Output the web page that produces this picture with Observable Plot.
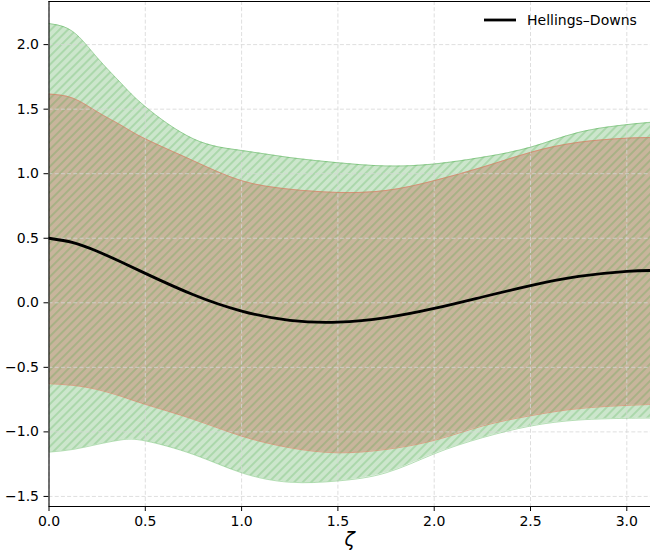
<!DOCTYPE html>
<html>
<head>
<meta charset="utf-8">
<script src="https://cdn.jsdelivr.net/npm/d3@7"></script>
<script src="https://cdn.jsdelivr.net/npm/@observablehq/plot@0.6"></script>
<style>
  html, body { margin: 0; padding: 0; background: #fff; overflow: hidden; }
  #chart { width: 650px; height: 560px; position: relative; }
</style>
</head>
<body>
<div id="chart"></div>
<script>
// ---- data ----
const zeta       = [0, 0.125, 0.25, 0.375, 0.5, 0.75, 1.0, 1.25, 1.5, 1.75, 2.0, 2.25, 2.5, 2.75, 3.0, 3.1416];
const hellings   = [0.5, 0.466, 0.399, 0.316, 0.228, 0.062, -0.064, -0.136, -0.150, -0.115, -0.044, 0.045, 0.133, 0.204, 0.244, 0.25];
const outerUpper = [2.163, 2.10, 1.90, 1.70, 1.52, 1.27, 1.18, 1.125, 1.085, 1.06, 1.075, 1.127, 1.205, 1.32, 1.38, 1.40];
const innerUpper = [1.617, 1.585, 1.48, 1.375, 1.27, 1.10, 0.946, 0.88, 0.855, 0.87, 0.946, 1.05, 1.165, 1.243, 1.275, 1.28];
const innerLower = [-0.627, -0.640, -0.672, -0.725, -0.787, -0.903, -1.033, -1.123, -1.162, -1.136, -1.066, -0.955, -0.875, -0.82, -0.795, -0.787];
const outerLower = [-1.157, -1.136, -1.097, -1.062, -1.07, -1.175, -1.317, -1.39, -1.38, -1.317, -1.17, -1.045, -0.955, -0.908, -0.895, -0.893];
const xTicks = [0, 0.5, 1.0, 1.5, 2.0, 2.5, 3.0];
const yTicks = [-1.5, -1.0, -0.5, 0.0, 0.5, 1.0, 1.5, 2.0];
const xDomain = [0, 3.123];
const yDomain = [-1.578, 2.334];
const legendLabel = "Hellings–Downs";
const xLabel = "ζ";

const rows = zeta.map((z, i) => ({
  z, hd: hellings[i], ou: outerUpper[i], iu: innerUpper[i], il: innerLower[i], ol: outerLower[i]
}));

const fmt = d => (d < 0 ? "\u2212" : "") + Math.abs(d).toFixed(1);
const curve = "natural";

const plot = Plot.plot({
  width: 650,
  height: 560,
  marginLeft: 48.5,
  marginRight: 0,
  marginTop: 1,
  marginBottom: 54,
  style: { fontFamily: "DejaVu Sans, sans-serif", fontSize: "14px", color: "#000", background: "#fff", overflow: "visible" },
  x: { domain: xDomain, ticks: xTicks, tickFormat: fmt, tickSize: 5, tickPadding: 5, label: null },
  y: { domain: yDomain, ticks: yTicks, tickFormat: fmt, tickSize: 5, tickPadding: 5, label: null },
  marks: [
    Plot.areaY(rows, { x: "z", y1: "ol", y2: "ou", curve, fill: "#cce6cc", clip: true }),
    Plot.areaY(rows, { x: "z", y1: "il", y2: "iu", curve, fill: "#c8b59c", clip: true }),
    Plot.areaY(rows, { x: "z", y1: "ol", y2: "ou", curve, fill: "url(#hatch)", clip: true }),
    Plot.ruleX(xTicks, { stroke: "#d6d6d6", strokeWidth: 0.8, strokeDasharray: "4,2.2" }),
    Plot.ruleY(yTicks, { stroke: "#d6d6d6", strokeWidth: 0.8, strokeDasharray: "4,2.2" }),
    Plot.lineY(rows, { x: "z", y: "ou", curve, stroke: "#2ca02c", strokeOpacity: 0.35, strokeWidth: 1, clip: true }),
    Plot.lineY(rows, { x: "z", y: "ol", curve, stroke: "#2ca02c", strokeOpacity: 0.35, strokeWidth: 1, clip: true }),
    Plot.lineY(rows, { x: "z", y: "iu", curve, stroke: "#e07a5f", strokeOpacity: 0.6, strokeWidth: 1, clip: true }),
    Plot.lineY(rows, { x: "z", y: "il", curve, stroke: "#e07a5f", strokeOpacity: 0.6, strokeWidth: 1, clip: true }),
    Plot.lineY(rows, { x: "z", y: "hd", curve, stroke: "#000", strokeWidth: 2.8, clip: true }),
    Plot.ruleX([xDomain[0]], { stroke: "#000", strokeWidth: 1.1 }),
    Plot.ruleY([yDomain[0]], { stroke: "#000", strokeWidth: 1.1 }),
    Plot.ruleY([yDomain[1]], { stroke: "#000", strokeWidth: 1.1 }),
    Plot.text([xLabel], { frameAnchor: "bottom", dy: 39, fontSize: 19, fontStyle: "italic", fill: "#000" })
  ]
});

document.getElementById("chart").appendChild(plot);

// hatch pattern definition
const svg = d3.select(plot);
const defs = svg.insert("defs", ":first-child");
const pat = defs.append("pattern")
  .attr("id", "hatch")
  .attr("patternUnits", "userSpaceOnUse")
  .attr("width", 6.0)
  .attr("height", 10)
  .attr("patternTransform", "rotate(45)");
pat.append("line")
  .attr("x1", 3).attr("x2", 3).attr("y1", -1).attr("y2", 11)
  .attr("stroke", "#2ca02c").attr("stroke-opacity", 0.38).attr("stroke-width", 1.1);

// legend (upper right, no frame)
const lg = svg.append("g").attr("class", "legend").attr("text-anchor", "start");
lg.append("line").attr("x1", 484).attr("x2", 516).attr("y1", 20).attr("y2", 20)
  .attr("stroke", "#000").attr("stroke-width", 2.8);
lg.append("text").attr("x", 527).attr("y", 20).attr("dy", "0.35em")
  .attr("text-anchor", "start")
  .attr("font-family", "DejaVu Sans, sans-serif").attr("font-size", 14).attr("fill", "#000")
  .text(legendLabel);
</script>
</body>
</html>
